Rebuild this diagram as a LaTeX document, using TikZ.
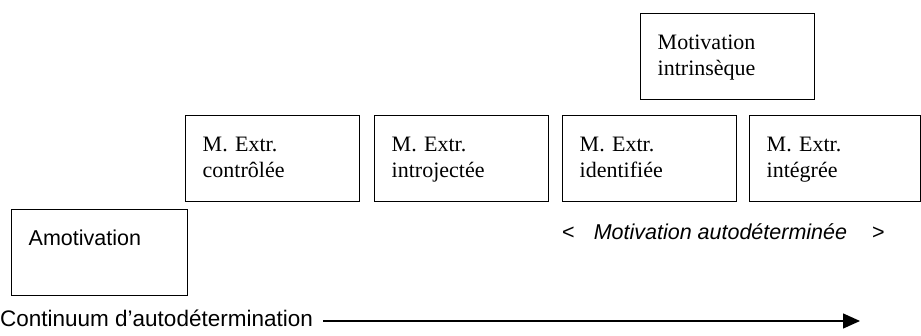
\documentclass[tikz,border=0pt]{standalone}
\usepackage{fontspec}
\setmainfont{Liberation Serif}
\setsansfont{Liberation Sans}
\usetikzlibrary{arrows.meta}
\begin{document}
\begin{tikzpicture}[x=1pt,y=-1pt,
  mbox/.style={draw=black, line width=1.4pt, anchor=north west, inner xsep=17pt, inner ysep=0pt,
    text width=140pt, align=left, text height=36pt, text depth=50pt,
    font=\fontsize{22}{26}\selectfont},
  sanslabel/.style={inner sep=0pt, anchor=base west, font=\sffamily\fontsize{21.5}{26}\selectfont}]
\useasboundingbox (0,0) rectangle (921,336);
\node[mbox, text width=142pt] (amot) at (11,209) {\sffamily\fontsize{21.5}{26}\selectfont Amotivation};
\node[mbox] (ctrl) at (185,115) {M. Extr.\\contrôlée};
\node[mbox] (intro) at (374,115) {M. Extr.\\introjectée};
\node[mbox] (ident) at (562,115) {M. Extr.\\identifiée};
\node[mbox, text width=137pt] (integ) at (749,115) {M. Extr.\\intégrée};
\node[mbox] (intr) at (640,13) {Motivation\\intrinsèque};
\node[sanslabel] (autod) at (562,240) {<\hspace{19pt}\textit{Motivation autodéterminée}\hspace{25pt}>};
\node[sanslabel, font=\sffamily\fontsize{22.5}{26}\selectfont] (cont) at (0,327) {Continuum d’autodétermination};
\coordinate (arrS) at (323,321);
\coordinate (arrE) at (860,321);
\draw[line width=1.4pt, -{Triangle[length=17pt,width=15pt]}] (arrS) -- (arrE);
\end{tikzpicture}
\end{document}
